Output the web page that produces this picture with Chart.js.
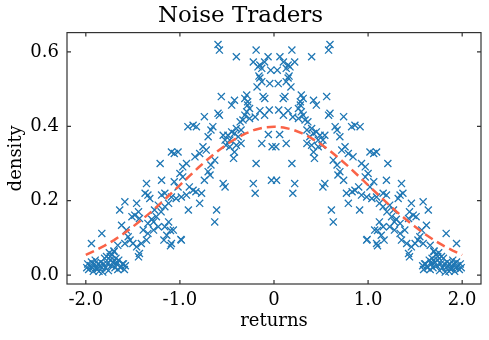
<!DOCTYPE html>
<html>
<head>
<meta charset="utf-8">
<script src="https://cdn.jsdelivr.net/npm/chart.js@4.4.0/dist/chart.umd.min.js"></script>
<style>
  html, body { margin: 0; padding: 0; background: #fff; }
  #wrap { width: 489px; height: 340px; }
</style>
</head>
<body>
<div id="wrap"><canvas id="chart"></canvas></div>
<script>
// scatter samples [return, density]
const leftTail = [[-1.99,0.02],[-1.98,0.03],[-1.97,0.015],[-1.95,0.025],[-1.94,0.035],[-1.93,0.02],[-1.92,0.01],[-1.91,0.03],[-1.90,0.04],[-1.89,0.02],[-1.88,0.015],[-1.87,0.03],[-1.86,0.01],[-1.85,0.025],[-1.84,0.035],[-1.83,0.02],[-1.82,0.008],[-1.81,0.03],[-1.80,0.045],[-1.79,0.02],[-1.78,0.05],[-1.77,0.03],[-1.76,0.012],[-1.75,0.06],[-1.74,0.04],[-1.73,0.025],[-1.72,0.055],[-1.71,0.035],[-1.70,0.065],[-1.69,0.02],[-1.68,0.045],[-1.67,0.03],[-1.66,0.015],[-1.65,0.04],[-1.63,0.02],[-1.61,0.03],[-1.59,0.015],[-1.58,0.025]];
const rightTail = [[1.99,0.02],[1.98,0.03],[1.97,0.015],[1.95,0.025],[1.94,0.035],[1.93,0.02],[1.92,0.01],[1.91,0.03],[1.90,0.04],[1.89,0.02],[1.88,0.015],[1.87,0.03],[1.86,0.01],[1.85,0.025],[1.84,0.035],[1.83,0.02],[1.82,0.008],[1.81,0.03],[1.80,0.045],[1.79,0.02],[1.78,0.05],[1.77,0.03],[1.76,0.012],[1.75,0.06],[1.74,0.04],[1.73,0.025],[1.72,0.055],[1.71,0.035],[1.70,0.065],[1.69,0.02],[1.68,0.045],[1.67,0.03],[1.66,0.015],[1.65,0.04],[1.63,0.02],[1.61,0.03],[1.59,0.015],[1.58,0.025]];

const leftShoulder = [[-1.09,0.331],[-1.21,0.30],[-1.195,0.255],[-1.355,0.246],[-1.16,0.22],[-1.195,0.215],[-1.12,0.193],[-1.23,0.188],[-1.27,0.175],[-1.16,0.184],[-1.34,0.215],[-1.37,0.22],[-1.32,0.206],[-1.46,0.193],[-1.585,0.197],[-1.64,0.175],[-1.44,0.17],[-1.48,0.161],[-1.43,0.152],[-1.51,0.157],[-1.25,0.157],[-1.28,0.143],[-1.34,0.139],[-1.23,0.13],[-1.28,0.121],[-1.34,0.112],[-1.39,0.121],[-1.355,0.094],[-1.41,0.085],[-1.46,0.076],[-1.50,0.085],[-1.53,0.094],[-1.57,0.121],[-1.62,0.134],[-1.55,0.103],[-1.585,0.085],[-1.43,0.058],[-1.44,0.049],[-1.83,0.112],[-1.94,0.085],[-1.12,0.143],[-1.16,0.13],[-1.10,0.12],[-1.14,0.107],[-1.17,0.094],[-0.99,0.096],[-1.10,0.079],[-1.30,0.15],[-1.20,0.17],[-1.66,0.08],[-1.70,0.063],[-1.74,0.05],[-1.67,0.035],[-1.60,0.03]];
const rightShoulder = [[1.09,0.331],[1.21,0.30],[1.195,0.255],[1.355,0.246],[1.16,0.22],[1.195,0.215],[1.12,0.193],[1.23,0.188],[1.27,0.175],[1.16,0.184],[1.34,0.215],[1.37,0.22],[1.32,0.206],[1.46,0.193],[1.585,0.197],[1.64,0.175],[1.44,0.17],[1.48,0.161],[1.43,0.152],[1.51,0.157],[1.25,0.157],[1.28,0.143],[1.34,0.139],[1.23,0.13],[1.28,0.121],[1.34,0.112],[1.39,0.121],[1.355,0.094],[1.41,0.085],[1.46,0.076],[1.50,0.085],[1.53,0.094],[1.57,0.121],[1.62,0.134],[1.55,0.103],[1.585,0.085],[1.43,0.058],[1.44,0.049],[1.83,0.112],[1.94,0.085],[1.12,0.143],[1.16,0.13],[1.10,0.12],[1.14,0.107],[1.17,0.094],[0.99,0.096],[1.10,0.079],[1.30,0.15],[1.20,0.17],[1.66,0.08],[1.70,0.063],[1.74,0.05],[1.67,0.035],[1.60,0.03]];

const leftMiddle = [[-0.02,0.345],[-0.13,0.354],[-0.06,0.378],[-0.19,0.30],[-0.027,0.255],[-0.22,0.246],[-0.20,0.22],[-0.54,0.246],[-0.52,0.237],[-0.61,0.175],[-0.63,0.143],[-0.35,0.39],[-0.40,0.394],[-0.42,0.381],[-0.45,0.385],[-0.49,0.376],[-0.38,0.372],[-0.35,0.354],[-0.40,0.349],[-0.42,0.331],[-0.47,0.345],[-0.51,0.349],[-0.54,0.376],[-0.65,0.399],[-0.67,0.39],[-0.70,0.372],[-0.755,0.345],[-0.72,0.336],[-0.79,0.327],[-0.84,0.318],[-0.63,0.309],[-0.67,0.296],[-0.70,0.278],[-0.74,0.255],[-0.68,0.269],[-0.77,0.22],[-0.83,0.224],[-0.86,0.228],[-0.90,0.237],[-0.93,0.215],[-0.79,0.193],[-0.91,0.175],[-0.97,0.264],[-1.0,0.273],[-1.02,0.237],[-1.06,0.251],[-0.985,0.21],[-1.04,0.206],[-1.09,0.21],[-1.02,0.331],[-1.06,0.327],[-0.93,0.30],[-0.97,0.291],[-0.825,0.399],[-0.86,0.403],[-0.915,0.399],[-0.985,0.094],[-1.07,0.121],[-1.09,0.085],[-0.43,0.314],[-0.47,0.363],[-0.52,0.363]];
const rightMiddle = [[0.02,0.345],[0.13,0.354],[0.06,0.378],[0.19,0.30],[0.027,0.255],[0.22,0.246],[0.20,0.22],[0.54,0.246],[0.52,0.237],[0.61,0.175],[0.63,0.143],[0.35,0.39],[0.40,0.394],[0.42,0.381],[0.45,0.385],[0.49,0.376],[0.38,0.372],[0.35,0.354],[0.40,0.349],[0.42,0.331],[0.47,0.345],[0.51,0.349],[0.54,0.376],[0.65,0.399],[0.67,0.39],[0.70,0.372],[0.755,0.345],[0.72,0.336],[0.79,0.327],[0.84,0.318],[0.63,0.309],[0.67,0.296],[0.70,0.278],[0.74,0.255],[0.68,0.269],[0.77,0.22],[0.83,0.224],[0.86,0.228],[0.90,0.237],[0.93,0.215],[0.79,0.193],[0.91,0.175],[0.97,0.264],[1.0,0.273],[1.02,0.237],[1.06,0.251],[0.985,0.21],[1.04,0.206],[1.09,0.21],[1.02,0.331],[1.06,0.327],[0.93,0.30],[0.97,0.291],[0.825,0.399],[0.86,0.403],[0.915,0.399],[0.985,0.094],[1.07,0.121],[1.09,0.085],[0.43,0.314],[0.47,0.363],[0.52,0.363]];

const leftTop = [[-0.035,0.551],[-0.045,0.515],[-0.063,0.587],[-0.10,0.573],[-0.15,0.565],[-0.13,0.556],[-0.17,0.56],[-0.22,0.573],[-0.19,0.605],[-0.40,0.587],[-0.58,0.605],[-0.595,0.62],[-0.16,0.535],[-0.13,0.52],[-0.18,0.506],[-0.15,0.53],[-0.098,0.475],[-0.116,0.48],[-0.29,0.484],[-0.31,0.475],[-0.28,0.466],[-0.42,0.47],[-0.45,0.457],[-0.56,0.48],[-0.05,0.444],[-0.10,0.43],[-0.15,0.442],[-0.28,0.457],[-0.26,0.448],[-0.31,0.43],[-0.33,0.417],[-0.36,0.412],[-0.26,0.421],[-0.20,0.425],[-0.29,0.439],[-0.58,0.43],[-0.595,0.435],[-0.74,0.426]];
const rightTop = [[0.035,0.551],[0.045,0.515],[0.063,0.587],[0.10,0.573],[0.15,0.565],[0.13,0.556],[0.17,0.56],[0.22,0.573],[0.19,0.605],[0.40,0.587],[0.58,0.605],[0.595,0.62],[0.16,0.535],[0.13,0.52],[0.18,0.506],[0.15,0.53],[0.098,0.475],[0.116,0.48],[0.29,0.484],[0.31,0.475],[0.28,0.466],[0.42,0.47],[0.45,0.457],[0.56,0.48],[0.05,0.444],[0.10,0.43],[0.15,0.442],[0.28,0.457],[0.26,0.448],[0.31,0.43],[0.33,0.417],[0.36,0.412],[0.26,0.421],[0.20,0.425],[0.29,0.439],[0.58,0.43],[0.595,0.435],[0.74,0.426]];

// dashed reference density curve
const curveX = [-2.0,-1.9,-1.8,-1.7,-1.6,-1.5,-1.4,-1.3,-1.2,-1.1,-1.0,-0.9,-0.8,-0.7,-0.6,-0.5,-0.4,-0.3,-0.2,-0.1,0.0,0.1,0.2,0.3,0.4,0.5,0.6,0.7,0.8,0.9,1.0,1.1,1.2,1.3,1.4,1.5,1.6,1.7,1.8,1.9,2.0];
const curveY = [0.054,0.066,0.079,0.094,0.111,0.130,0.150,0.171,0.194,0.218,0.242,0.266,0.290,0.312,0.333,0.352,0.368,0.381,0.391,0.397,0.399,0.397,0.391,0.381,0.368,0.352,0.333,0.312,0.290,0.266,0.242,0.218,0.194,0.171,0.150,0.130,0.111,0.094,0.079,0.066,0.054];

const xTicks = [-2, -1, 0, 1, 2];
const yTicks = [0, 0.2, 0.4, 0.6];

const FONT = "'DejaVu Serif', 'Liberation Serif', serif";

const scatterPoints = [leftTail, leftShoulder, leftMiddle, leftTop, rightTop, rightMiddle, rightShoulder, rightTail]
  .flat()
  .map(p => ({x: p[0], y: p[1]}));
const curvePoints = curveX.map((x, i) => ({x: x, y: curveY[i]}));

// box frame with inward ticks on all four sides
const frameTicks = {
  id: 'frameTicks',
  afterDraw(chart) {
    const {ctx, chartArea: a, scales: {x, y}} = chart;
    const len = 4;
    ctx.save();
    ctx.strokeStyle = '#333';
    ctx.lineWidth = 1.2;
    ctx.strokeRect(a.left, a.top, a.right - a.left, a.bottom - a.top);
    ctx.beginPath();
    x.ticks.forEach(t => {
      const px = x.getPixelForValue(t.value);
      ctx.moveTo(px, a.bottom); ctx.lineTo(px, a.bottom - len);
      ctx.moveTo(px, a.top); ctx.lineTo(px, a.top + len);
    });
    y.ticks.forEach(t => {
      const py = y.getPixelForValue(t.value);
      ctx.moveTo(a.left, py); ctx.lineTo(a.left + len, py);
      ctx.moveTo(a.right, py); ctx.lineTo(a.right - len, py);
    });
    ctx.stroke();
    ctx.restore();
  }
};

new Chart(document.getElementById('chart'), {
  type: 'scatter',
  data: {
    datasets: [
      {
        type: 'line',
        data: curvePoints,
        order: 0,
        borderColor: '#fa6347',
        borderWidth: 2.5,
        borderDash: [9, 5],
        pointRadius: 0,
        fill: false,
        tension: 0
      },
      {
        data: scatterPoints,
        order: 1,
        pointStyle: 'crossRot',
        pointRadius: 5,
        pointBorderWidth: 1.3,
        borderColor: '#1f77b4',
        backgroundColor: '#1f77b4'
      }
    ]
  },
  options: {
    responsive: true,
    maintainAspectRatio: false,
    animation: false,
    layout: {padding: {left: 0, right: 8, top: 0, bottom: 0}},
    plugins: {
      legend: {display: false},
      tooltip: {enabled: false},
      title: {
        display: true,
        text: 'Noise Traders',
        color: '#000',
        font: {family: FONT, size: 23, weight: 'normal'},
        padding: {top: 2, bottom: 3}
      }
    },
    scales: {
      x: {
        type: 'linear',
        min: -2.2,
        max: 2.2,
        afterBuildTicks: s => { s.ticks = xTicks.map(v => ({value: v})); },
        afterFit: s => { s.height = 56; },
        grid: {display: false, drawTicks: false},
        border: {display: false},
        ticks: {
          color: '#000',
          padding: 6,
          font: {family: FONT, size: 18},
          callback: v => v === 0 ? '0' : v.toFixed(1)
        },
        title: {
          display: true,
          text: 'returns',
          color: '#000',
          font: {family: FONT, size: 18},
          padding: {top: 0, bottom: 8}
        }
      },
      y: {
        type: 'linear',
        min: -0.024,
        max: 0.652,
        afterBuildTicks: s => { s.ticks = yTicks.map(v => ({value: v})); },
        afterFit: s => { s.width = 67; },
        grid: {display: false, drawTicks: false},
        border: {display: false},
        ticks: {
          color: '#000',
          padding: 8,
          font: {family: FONT, size: 18},
          callback: v => v.toFixed(1)
        },
        title: {
          display: true,
          text: 'density',
          color: '#000',
          font: {family: FONT, size: 18},
          padding: {top: 6, bottom: 0}
        }
      }
    }
  },
  plugins: [frameTicks]
});
</script>
</body>
</html>
